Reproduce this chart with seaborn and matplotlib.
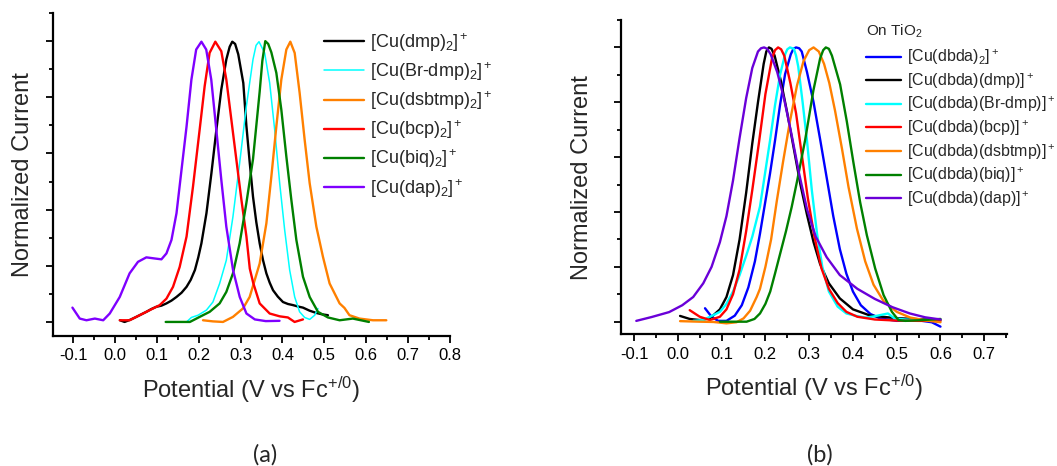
import matplotlib
matplotlib.use("Agg")
import matplotlib.pyplot as plt
from matplotlib.ticker import MultipleLocator, FormatStrFormatter
import seaborn as sns

# ---------- panel (a): complexes in solution ----------
a_dmp_x = [0.012, 0.023, 0.037, 0.051, 0.063, 0.075, 0.087, 0.099, 0.111, 0.123, 0.135, 0.147,
           0.159, 0.171, 0.181, 0.191, 0.199, 0.2065, 0.2185, 0.2304, 0.2423, 0.254, 0.266, 0.274,
           0.2802, 0.287, 0.2945, 0.3065, 0.3138, 0.3217, 0.3297, 0.3376, 0.3456, 0.3536, 0.3616,
           0.3695, 0.3775, 0.389, 0.4012, 0.413, 0.425, 0.437, 0.449, 0.465, 0.481, 0.495, 0.5086]
a_dmp_y = [0.006, 0.0, 0.008, 0.018, 0.027, 0.036, 0.046, 0.054, 0.058, 0.066, 0.076, 0.089,
           0.104, 0.125, 0.15, 0.185, 0.23, 0.28, 0.387, 0.53, 0.685, 0.828, 0.935, 0.98,
           0.998, 0.99, 0.953, 0.851, 0.70, 0.57, 0.446, 0.355, 0.28, 0.22, 0.173,
           0.14, 0.113, 0.09, 0.071, 0.064, 0.06, 0.055, 0.051, 0.04, 0.032, 0.027, 0.024]

a_brdmp_x = [0.159, 0.171, 0.1826, 0.1984, 0.2184, 0.234, 0.25, 0.266, 0.2818, 0.2978, 0.3138,
             0.3297, 0.337, 0.344, 0.3575, 0.3695, 0.3814, 0.3934, 0.4053, 0.4172, 0.4292, 0.441,
             0.453, 0.465, 0.477, 0.4848]
a_brdmp_y = [0.0, 0.0, 0.016, 0.024, 0.042, 0.071, 0.137, 0.22, 0.375, 0.566, 0.768,
             0.935, 0.985, 0.998, 0.958, 0.851, 0.685, 0.494, 0.3275, 0.185, 0.089, 0.036,
             0.016, 0.009, 0.024, 0.048]

a_dsbtmp_x = [0.2103, 0.234, 0.258, 0.2818, 0.3057, 0.3217, 0.3456, 0.3616, 0.3735, 0.3854, 0.3973,
              0.4093, 0.4188, 0.4292, 0.441, 0.453, 0.465, 0.481, 0.4967, 0.5126, 0.5365, 0.548,
              0.560, 0.584, 0.616, 0.648]
a_dsbtmp_y = [0.006, 0.002, 0.0, 0.018, 0.048, 0.089, 0.208, 0.351, 0.518, 0.696, 0.863,
              0.97, 0.998, 0.958, 0.816, 0.649, 0.494, 0.339, 0.232, 0.137, 0.066, 0.05,
              0.024, 0.012, 0.006, 0.006]

a_bcp_x = [0.0115, 0.035, 0.059, 0.083, 0.107, 0.123, 0.1387, 0.1546, 0.171, 0.1864, 0.2023, 0.2142,
           0.226, 0.2397, 0.254, 0.266, 0.278, 0.290, 0.302, 0.314, 0.322, 0.33, 0.3456, 0.3695,
           0.3934, 0.413, 0.429, 0.449]
a_bcp_y = [0.006, 0.006, 0.024, 0.042, 0.06, 0.083, 0.125, 0.196, 0.304, 0.482, 0.685, 0.839,
           0.958, 0.998, 0.964, 0.863, 0.72, 0.577, 0.435, 0.304, 0.19, 0.14, 0.066, 0.03,
           0.02, 0.016, 0.0, 0.009]

a_biq_x = [0.1212, 0.15, 0.179, 0.2023, 0.2262, 0.25, 0.266, 0.2818, 0.2978, 0.3138, 0.3297, 0.3456,
           0.352, 0.359, 0.366, 0.3735, 0.3854, 0.3973, 0.4093, 0.4212, 0.4332, 0.449, 0.465,
           0.4848, 0.5086, 0.5365, 0.568, 0.6065]
a_biq_y = [0.0, 0.0, 0.0, 0.018, 0.036, 0.066, 0.107, 0.173, 0.28, 0.423, 0.58, 0.82,
           0.93, 1.0, 0.99, 0.96, 0.887, 0.756, 0.589, 0.435, 0.292, 0.161, 0.089,
           0.036, 0.016, 0.006, 0.012, 0.0]

a_dap_x = [-0.1015, -0.084, -0.068, -0.048, -0.028, -0.0124, 0.0115, 0.035, 0.055, 0.075, 0.095,
           0.111, 0.123, 0.135, 0.147, 0.159, 0.171, 0.1826, 0.194, 0.2065, 0.218, 0.230, 0.242,
           0.254, 0.266, 0.282, 0.298, 0.314, 0.334, 0.36, 0.393]
a_dap_y = [0.051, 0.012, 0.006, 0.012, 0.006, 0.03, 0.089, 0.173, 0.214, 0.23, 0.226,
           0.223, 0.244, 0.292, 0.387, 0.542, 0.696, 0.863, 0.97, 0.998, 0.97, 0.863, 0.685,
           0.506, 0.339, 0.185, 0.089, 0.03, 0.009, 0.003, 0.004]

a_labels = ['[Cu(dmp)$_2$]$^+$', '[Cu(Br-dmp)$_2$]$^+$', '[Cu(dsbtmp)$_2$]$^+$',
            '[Cu(bcp)$_2$]$^+$', '[Cu(biq)$_2$]$^+$', '[Cu(dap)$_2$]$^+$']

# ---------- panel (b): complexes on TiO2 ----------
b_dbda_x = [0.062, 0.077, 0.092, 0.111, 0.13, 0.146, 0.161, 0.176, 0.1876, 0.2, 0.2105, 0.222,
            0.2334, 0.245, 0.258, 0.264, 0.27, 0.277, 0.283, 0.295, 0.31, 0.325, 0.34, 0.355,
            0.37, 0.385, 0.4, 0.418, 0.44, 0.462, 0.5, 0.545, 0.58, 0.6]
b_dbda_y = [0.049, 0.018, 0.003, 0.003, 0.022, 0.06, 0.125, 0.22, 0.321, 0.44, 0.54, 0.661,
            0.79, 0.903, 0.975, 0.995, 1.0, 0.997, 0.985, 0.91, 0.80, 0.665, 0.525, 0.385,
            0.265, 0.175, 0.11, 0.06, 0.028, 0.012, 0.003, 0.006, -0.002, -0.018]

b_dmp_x = [0.005, 0.027, 0.05, 0.073, 0.096, 0.111, 0.126, 0.141, 0.156, 0.17, 0.183, 0.196,
           0.202, 0.208, 0.214, 0.221, 0.235, 0.25, 0.265, 0.28, 0.295, 0.31, 0.325, 0.345,
           0.37, 0.4, 0.44, 0.5, 0.55, 0.6]
b_dmp_y = [0.021, 0.01, 0.006, 0.012, 0.045, 0.09, 0.17, 0.30, 0.47, 0.65, 0.80, 0.94,
           0.985, 1.0, 0.995, 0.97, 0.88, 0.76, 0.63, 0.5, 0.39, 0.29, 0.21, 0.14,
           0.085, 0.045, 0.022, 0.013, 0.009, 0.006]

b_brdmp_x = [0.035, 0.058, 0.081, 0.096, 0.111, 0.126, 0.141, 0.156, 0.17, 0.1876, 0.2, 0.2105,
             0.222, 0.2334, 0.245, 0.25, 0.256, 0.265, 0.27, 0.275, 0.285, 0.295, 0.306, 0.318,
             0.33, 0.345, 0.365, 0.385, 0.41, 0.43, 0.45, 0.465, 0.48, 0.495, 0.52, 0.56, 0.6]
b_brdmp_y = [0.003, 0.006, 0.024, 0.036, 0.065, 0.11, 0.17, 0.24, 0.31, 0.42, 0.55, 0.66,
             0.79, 0.9, 0.975, 0.993, 1.0, 0.995, 0.97, 0.93, 0.80, 0.66, 0.48, 0.32,
             0.2, 0.11, 0.055, 0.03, 0.02, 0.015, 0.02, 0.025, 0.03, 0.012, 0.008, 0.006, 0.005]

b_bcp_x = [0.027, 0.05, 0.073, 0.096, 0.111, 0.126, 0.141, 0.156, 0.17, 0.185, 0.2, 0.215,
           0.222, 0.229, 0.236, 0.243, 0.257, 0.27, 0.283, 0.297, 0.312, 0.328, 0.345, 0.365,
           0.385, 0.41, 0.45, 0.5, 0.55, 0.6]
b_bcp_y = [0.042, 0.018, 0.006, 0.018, 0.045, 0.1, 0.19, 0.33, 0.48, 0.65, 0.83, 0.96,
           0.99, 1.0, 0.993, 0.97, 0.87, 0.76, 0.61, 0.45, 0.31, 0.195, 0.12, 0.068,
           0.036, 0.018, 0.008, 0.004, 0.003, 0.003]

b_dsbtmp_x = [0.005, 0.05, 0.081, 0.111, 0.134, 0.15, 0.165, 0.18, 0.1876, 0.2, 0.213, 0.226,
              0.24, 0.256, 0.272, 0.287, 0.3, 0.31, 0.322, 0.334, 0.346, 0.359, 0.375, 0.39,
              0.409, 0.428, 0.447, 0.47, 0.5, 0.531, 0.569, 0.6]
b_dsbtmp_y = [0.002, 0.0, -0.001, -0.006, -0.002, 0.012, 0.04, 0.09, 0.12, 0.2, 0.3, 0.44,
              0.58, 0.73, 0.86, 0.95, 0.99, 1.0, 0.985, 0.94, 0.87, 0.77, 0.63, 0.49,
              0.34, 0.22, 0.135, 0.075, 0.036, 0.015, 0.004, -0.002]

b_biq_x = [0.096, 0.13, 0.157, 0.175, 0.1876, 0.2, 0.211, 0.222, 0.234, 0.247, 0.26, 0.272,
           0.2906, 0.3096, 0.325, 0.332, 0.338, 0.345, 0.352, 0.3707, 0.386, 0.4011, 0.4165,
           0.4318, 0.4508, 0.47, 0.489, 0.504, 0.52, 0.56, 0.6]
b_biq_y = [0.0, 0.0, 0.0, 0.01, 0.03, 0.065, 0.11, 0.176, 0.25, 0.33, 0.418, 0.51,
           0.661, 0.843, 0.96, 0.99, 1.0, 0.995, 0.97, 0.865, 0.73, 0.58, 0.435,
           0.315, 0.194, 0.097, 0.036, 0.006, 0.003, 0.006, 0.01]

b_dap_x = [-0.095, -0.06, -0.02, 0.01, 0.035, 0.058, 0.077, 0.096, 0.111, 0.126, 0.141, 0.156,
           0.17, 0.183, 0.19, 0.197, 0.204, 0.212, 0.227, 0.243, 0.26, 0.277, 0.295, 0.315,
           0.34, 0.37, 0.41, 0.45, 0.49, 0.53, 0.565, 0.6]
b_dap_y = [0.003, 0.017, 0.035, 0.06, 0.09, 0.14, 0.20, 0.29, 0.385, 0.515, 0.67, 0.815,
           0.925, 0.985, 0.997, 1.0, 0.995, 0.975, 0.91, 0.81, 0.68, 0.54, 0.41, 0.31,
           0.235, 0.17, 0.12, 0.083, 0.053, 0.03, 0.016, 0.008]

b_labels = ['[Cu(dbda)$_2$]$^+$', '[Cu(dbda)(dmp)]$^+$', '[Cu(dbda)(Br-dmp)]$^+$',
            '[Cu(dbda)(bcp)]$^+$', '[Cu(dbda)(dsbtmp)]$^+$', '[Cu(dbda)(biq)]$^+$',
            '[Cu(dbda)(dap)]$^+$']

sns.set_style("ticks")
plt.rcParams['font.family'] = ['Liberation Sans', 'DejaVu Sans']
plt.rcParams['mathtext.fontset'] = 'custom'
plt.rcParams['mathtext.rm'] = 'Liberation Sans'
plt.rcParams['mathtext.it'] = 'Liberation Sans:italic'
plt.rcParams['mathtext.bf'] = 'Liberation Sans:bold'
plt.rcParams['axes.unicode_minus'] = False

fig = plt.figure(figsize=(10.57, 4.66), dpi=100)
ax_a = fig.add_axes([0.0501, 0.279, 0.3756, 0.693])
ax_b = fig.add_axes([0.5875, 0.2826, 0.3652, 0.6745])

a_series = [(a_dmp_x, a_dmp_y, 'black', 1.7), (a_brdmp_x, a_brdmp_y, '#00FFFF', 1.1),
            (a_dsbtmp_x, a_dsbtmp_y, '#FF8000', 1.7), (a_bcp_x, a_bcp_y, '#FF0000', 1.7),
            (a_biq_x, a_biq_y, '#008000', 1.7), (a_dap_x, a_dap_y, '#7F00FF', 1.7)]
for (xs, ys, col, lw), lab in zip(a_series, a_labels):
    sns.lineplot(x=xs, y=ys, color=col, linewidth=lw, label=lab, sort=False,
                 estimator=None, ax=ax_a)

b_series = [(b_dbda_x, b_dbda_y, '#0000FF'), (b_dmp_x, b_dmp_y, 'black'),
            (b_brdmp_x, b_brdmp_y, '#00FFFF'), (b_bcp_x, b_bcp_y, '#FF0000'),
            (b_dsbtmp_x, b_dsbtmp_y, '#FF8000'), (b_biq_x, b_biq_y, '#008000'),
            (b_dap_x, b_dap_y, '#6A00D8')]
for (xs, ys, col), lab in zip(b_series, b_labels):
    sns.lineplot(x=xs, y=ys, color=col, linewidth=1.7, label=lab, sort=False,
                 estimator=None, ax=ax_b)

for ax, xl, yl, ypad in [(ax_a, (-0.148, 0.8), (-0.05, 1.1), 7.5),
                         (ax_b, (-0.13, 0.752), (-0.046, 1.1), 14)]:
    ax.set_xlim(*xl)
    ax.set_ylim(*yl)
    ax.xaxis.set_major_locator(MultipleLocator(0.1))
    ax.xaxis.set_minor_locator(MultipleLocator(0.05))
    ax.xaxis.set_major_formatter(FormatStrFormatter('%.1f'))
    ax.yaxis.set_major_locator(MultipleLocator(0.2))
    ax.yaxis.set_minor_locator(MultipleLocator(0.1))
    ax.tick_params(which='major', direction='out', length=5, width=1.3, labelsize=12,
                   colors='black', pad=4)
    ax.tick_params(which='minor', direction='out', length=3, width=1.3, colors='black')
    ax.tick_params(axis='y', labelleft=False)
    for s in ['left', 'bottom']:
        ax.spines[s].set_linewidth(1.6)
        ax.spines[s].set_color('black')
    sns.despine(ax=ax)
    ax.set_ylabel('Normalized Current', fontsize=17, labelpad=ypad)
    ax.set_xlabel('Potential (V vs Fc$^{+/0}$)', fontsize=17, labelpad=8)

ax_a.legend(loc='upper left', bbox_to_anchor=(0.683, 0.945), frameon=False, fontsize=13,
            handlelength=2.2, handletextpad=0.35, labelspacing=0.36, borderpad=0,
            borderaxespad=0)
ax_b.legend(loc='upper left', bbox_to_anchor=(0.635, 0.912), frameon=False, fontsize=11.5,
            handlelength=2.2, handletextpad=0.35, labelspacing=0.25, borderpad=0,
            borderaxespad=0)
ax_b.text(0.635, 0.965, 'On TiO$_2$', transform=ax_b.transAxes, fontsize=11,
          ha='left', va='center')

fig.text(0.2507, 0.0236, '(a)', fontsize=17, family='Lato', ha='center', va='center')
fig.text(0.7758, 0.0236, '(b)', fontsize=17, family='Lato', ha='center', va='center')

fig.savefig('out.png', dpi=100)
